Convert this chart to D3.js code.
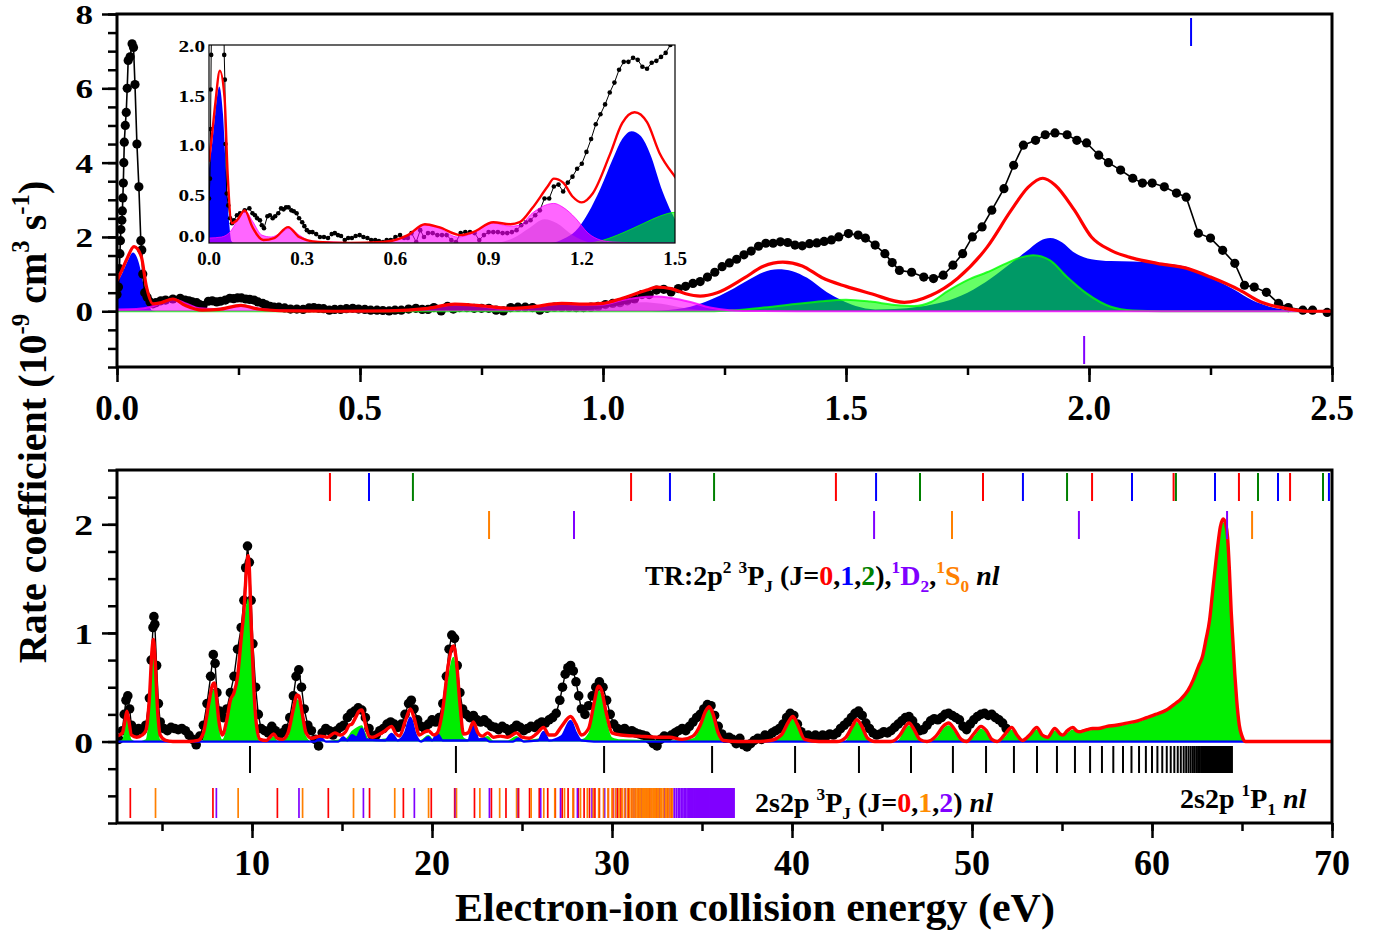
<!DOCTYPE html>
<html><head><meta charset="utf-8">
<script src="https://cdn.jsdelivr.net/npm/d3@7"></script>
<style>
body{margin:0;background:#fff}
svg{display:block}
text{font-family:"Liberation Serif","Times New Roman",serif;font-weight:bold;white-space:pre}
</style>
</head><body>
<svg id="c" width="1385" height="930"></svg>
<script>
// ---------------- DATA ----------------
// Top panel: experiment (x in eV, rate in 1e-9 cm3/s)
const topExp = [[0.000,0.45],[0.003,0.65],[0.005,1.15],[0.006,1.55],[0.007,1.90],[0.008,2.20],[0.010,2.45],[0.011,2.70],[0.012,3.05],[0.013,3.45],[0.014,4.00],[0.015,4.55],[0.017,5.00],[0.019,5.35],[0.021,6.00],[0.023,6.75],[0.027,6.85],[0.031,7.20],[0.034,7.10],[0.037,6.10],[0.041,4.50],[0.045,3.35],[0.049,1.90],[0.051,1.65],[0.053,1.00],[0.057,0.50],[0.062,0.38],[0.068,0.25],[0.074,0.20],[0.080,0.23],[0.090,0.28],[0.100,0.30],[0.115,0.33],[0.130,0.35],[0.140,0.30],[0.148,0.28],[0.155,0.25],[0.164,0.23],[0.170,0.18],[0.177,0.15],[0.188,0.27],[0.196,0.28],[0.205,0.25],[0.213,0.27],[0.223,0.30],[0.232,0.35],[0.240,0.34],[0.248,0.36],[0.256,0.36],[0.265,0.33],[0.273,0.32],[0.282,0.30],[0.290,0.25],[0.300,0.21],[0.307,0.17],[0.315,0.13],[0.323,0.11],[0.333,0.11],[0.345,0.09],[0.357,0.06],[0.370,0.06],[0.383,0.05],[0.395,0.09],[0.405,0.10],[0.415,0.08],[0.425,0.07],[0.437,0.03],[0.448,0.05],[0.460,0.05],[0.472,0.07],[0.485,0.08],[0.497,0.06],[0.510,0.05],[0.522,0.03],[0.535,0.03],[0.547,0.02],[0.560,0.01],[0.572,0.03],[0.585,0.03],[0.600,0.06],[0.615,0.08],[0.628,0.05],[0.640,0.05],[0.652,0.10],[0.667,0.01],[0.680,0.13],[0.692,0.06],[0.705,0.10],[0.720,0.10],[0.735,0.08],[0.750,0.08],[0.765,0.08],[0.780,0.03],[0.795,0.01],[0.810,0.10],[0.825,0.11],[0.840,0.11],[0.855,0.10],[0.870,0.03],[0.885,0.08],[0.900,0.11],[0.915,0.11],[0.930,0.11],[0.945,0.10],[0.960,0.10],[0.975,0.11],[0.990,0.13],[1.005,0.18],[1.020,0.21],[1.035,0.23],[1.050,0.28],[1.065,0.33],[1.080,0.45],[1.095,0.45],[1.110,0.57],[1.125,0.59],[1.140,0.52],[1.155,0.61],[1.170,0.67],[1.185,0.75],[1.200,0.80],[1.215,0.92],[1.230,1.05],[1.245,1.20],[1.260,1.30],[1.275,1.40],[1.290,1.52],[1.305,1.62],[1.320,1.75],[1.335,1.83],[1.350,1.83],[1.365,1.87],[1.380,1.85],[1.395,1.78],[1.410,1.76],[1.425,1.82],[1.440,1.84],[1.455,1.88],[1.470,1.92],[1.485,2.00],[1.505,2.09],[1.525,2.05],[1.540,1.97],[1.560,1.78],[1.580,1.55],[1.595,1.31],[1.610,1.10],[1.635,1.05],[1.660,0.92],[1.680,0.88],[1.700,0.97],[1.720,1.24],[1.740,1.55],[1.760,2.00],[1.780,2.27],[1.800,2.72],[1.825,3.30],[1.845,3.93],[1.865,4.47],[1.890,4.60],[1.910,4.75],[1.930,4.80],[1.955,4.75],[1.975,4.60],[1.995,4.53],[2.020,4.20],[2.040,4.00],[2.065,3.80],[2.090,3.58],[2.110,3.45],[2.130,3.45],[2.155,3.35],[2.180,3.18],[2.200,3.07],[2.225,2.10],[2.250,1.97],[2.275,1.64],[2.300,1.29],[2.320,0.70],[2.340,0.65],[2.365,0.51],[2.390,0.21],[2.410,0.10],[2.440,0.03],[2.460,0.03],[2.490,-0.03]];
// Top panel: total theory (red)
const topRed = [[0.0,0.82],[0.01,1.1],[0.02,1.4],[0.035,1.74],[0.05,1.47],[0.06,0.7],[0.074,0.2],[0.09,0.23],[0.115,0.33],[0.14,0.16],[0.175,0.03],[0.21,0.05],[0.255,0.16],[0.29,0.06],[0.35,0.01],[0.45,0.0],[0.56,0.01],[0.64,0.08],[0.695,0.19],[0.74,0.16],[0.81,0.08],[0.85,0.11],[0.915,0.21],[0.97,0.19],[1.0,0.21],[1.04,0.35],[1.09,0.57],[1.11,0.65],[1.14,0.61],[1.17,0.47],[1.2,0.41],[1.235,0.5],[1.29,0.89],[1.33,1.21],[1.37,1.32],[1.41,1.22],[1.45,0.91],[1.5,0.67],[1.55,0.48],[1.62,0.24],[1.675,0.43],[1.73,0.89],[1.79,1.72],[1.84,2.72],[1.875,3.34],[1.905,3.58],[1.93,3.4],[1.97,2.72],[2.005,2.0],[2.045,1.64],[2.09,1.43],[2.14,1.29],[2.2,1.16],[2.25,0.92],[2.31,0.57],[2.355,0.24],[2.405,0.08],[2.45,0.0],[2.5,0.0]];
// Top panel: partial contributions
const topBlue = [[0.0,0.75],[0.01,1.0],[0.02,1.3],[0.033,1.58],[0.045,1.3],[0.055,0.7],[0.065,0.2],[0.072,0.02],[0.08,0.0],[1.1,0.0],[1.14,0.04],[1.18,0.12],[1.22,0.3],[1.26,0.55],[1.3,0.85],[1.33,1.05],[1.36,1.13],[1.39,1.08],[1.42,0.9],[1.46,0.52],[1.49,0.3],[1.52,0.14],[1.56,0.05],[1.6,0.06],[1.65,0.12],[1.7,0.25],[1.75,0.5],[1.8,0.9],[1.84,1.3],[1.87,1.6],[1.9,1.9],[1.92,1.97],[1.945,1.85],[1.967,1.6],[2.005,1.4],[2.045,1.35],[2.09,1.34],[2.14,1.3],[2.2,1.2],[2.23,1.02],[2.26,0.84],[2.3,0.57],[2.335,0.3],[2.37,0.13],[2.41,0.03],[2.45,0.0],[2.5,0.0]];
const topGreen = [[0.0,0.0],[1.22,0.0],[1.27,0.03],[1.33,0.1],[1.4,0.2],[1.45,0.27],[1.5,0.31],[1.55,0.26],[1.6,0.17],[1.64,0.14],[1.675,0.25],[1.71,0.55],[1.75,0.84],[1.79,1.05],[1.83,1.29],[1.86,1.45],[1.885,1.51],[1.92,1.37],[1.955,0.92],[1.995,0.48],[2.045,0.12],[2.09,0.02],[2.15,0.0],[2.5,0.0]];
const topMagenta = [[0.0,0.05],[0.04,0.06],[0.07,0.12],[0.09,0.22],[0.115,0.33],[0.14,0.22],[0.17,0.08],[0.2,0.06],[0.23,0.1],[0.26,0.15],[0.29,0.08],[0.33,0.02],[0.4,0.01],[0.5,0.0],[0.58,0.02],[0.64,0.08],[0.695,0.18],[0.74,0.15],[0.8,0.06],[0.85,0.1],[0.915,0.2],[0.97,0.17],[1.0,0.18],[1.04,0.3],[1.09,0.39],[1.11,0.4],[1.14,0.36],[1.18,0.25],[1.22,0.1],[1.26,0.03],[1.3,0.01],[1.4,0.0],[2.5,0.0]];
const topGray = [[0.93,0.0],[0.98,0.05],[1.03,0.15],[1.08,0.24],[1.12,0.2],[1.17,0.08],[1.22,0.01],[1.25,0.0]];
const topMarkBlue = [2.21];
const topMarkPurple = [1.99];

// Bottom panel: experiment
const botExp = [[2.6,0.02],[2.8,0.10],[2.9,0.25],[3.0,0.38],[3.1,0.42],[3.2,0.30],[3.3,0.15],[3.5,0.08],[3.7,0.12],[3.9,0.10],[4.1,0.15],[4.3,0.40],[4.4,0.75],[4.5,1.05],[4.55,1.15],[4.6,1.08],[4.7,0.70],[4.8,0.35],[4.9,0.18],[5.1,0.12],[5.3,0.10],[5.5,0.13],[5.7,0.12],[5.9,0.11],[6.1,0.12],[6.3,0.10],[6.5,0.06],[6.7,0.02],[6.9,-0.03],[7.1,0.05],[7.3,0.15],[7.5,0.35],[7.7,0.60],[7.85,0.80],[7.95,0.72],[8.05,0.45],[8.2,0.28],[8.4,0.22],[8.6,0.30],[8.8,0.45],[9.0,0.60],[9.2,0.85],[9.4,1.05],[9.55,1.30],[9.65,1.60],[9.75,1.80],[9.85,1.65],[9.95,1.30],[10.05,0.90],[10.2,0.50],[10.35,0.25],[10.5,0.12],[10.7,0.10],[10.9,0.08],[11.1,0.14],[11.3,0.10],[11.5,0.06],[11.7,0.08],[11.9,0.12],[12.1,0.22],[12.3,0.42],[12.45,0.60],[12.6,0.66],[12.75,0.50],[12.9,0.30],[13.1,0.15],[13.3,0.10],[13.5,0.02],[13.7,-0.04],[13.9,0.08],[14.1,0.12],[14.3,0.10],[14.5,0.06],[14.7,0.10],[14.9,0.13],[15.1,0.15],[15.3,0.22],[15.5,0.26],[15.7,0.28],[15.9,0.31],[16.1,0.29],[16.3,0.22],[16.5,0.12],[16.7,0.05],[16.9,0.06],[17.1,0.10],[17.3,0.12],[17.5,0.16],[17.7,0.18],[17.9,0.16],[18.1,0.13],[18.3,0.16],[18.5,0.25],[18.7,0.35],[18.85,0.38],[19.0,0.30],[19.2,0.20],[19.4,0.14],[19.6,0.12],[19.8,0.16],[20.0,0.20],[20.2,0.18],[20.4,0.22],[20.6,0.35],[20.8,0.60],[20.95,0.85],[21.1,0.98],[21.25,0.95],[21.4,0.70],[21.55,0.45],[21.7,0.30],[21.9,0.25],[22.1,0.22],[22.3,0.24],[22.5,0.20],[22.7,0.18],[22.9,0.20],[23.1,0.17],[23.3,0.14],[23.5,0.13],[23.7,0.11],[23.9,0.14],[24.1,0.12],[24.3,0.09],[24.5,0.12],[24.7,0.15],[24.9,0.13],[25.1,0.10],[25.3,0.12],[25.5,0.14],[25.7,0.13],[25.9,0.16],[26.1,0.18],[26.3,0.17],[26.5,0.20],[26.7,0.22],[26.9,0.26],[27.1,0.38],[27.25,0.50],[27.4,0.62],[27.55,0.68],[27.7,0.70],[27.85,0.65],[28.0,0.55],[28.15,0.42],[28.3,0.30],[28.5,0.25],[28.7,0.33],[28.9,0.42],[29.1,0.50],[29.3,0.55],[29.5,0.50],[29.7,0.38],[29.9,0.25],[30.1,0.16],[30.3,0.12],[30.5,0.10],[30.7,0.12],[30.9,0.09],[31.1,0.10],[31.3,0.08],[31.5,0.07],[31.7,0.06],[31.9,0.05],[32.1,0.02],[32.3,-0.02],[32.5,-0.04],[32.7,0.02],[32.9,0.05],[33.1,0.04],[33.3,0.06],[33.5,0.08],[33.7,0.10],[33.9,0.12],[34.1,0.10],[34.3,0.14],[34.5,0.18],[34.7,0.22],[34.9,0.25],[35.1,0.30],[35.3,0.34],[35.5,0.33],[35.7,0.24],[35.9,0.14],[36.1,0.07],[36.3,0.03],[36.5,0.04],[36.7,0.02],[36.9,-0.02],[37.1,0.03],[37.3,-0.03],[37.5,-0.05],[37.7,-0.02],[37.9,0.01],[38.1,0.03],[38.3,0.02],[38.5,0.06],[38.7,0.05],[38.9,0.08],[39.1,0.10],[39.3,0.12],[39.5,0.16],[39.7,0.22],[39.9,0.26],[40.1,0.24],[40.3,0.16],[40.5,0.09],[40.7,0.05],[40.9,0.06],[41.1,0.04],[41.3,0.06],[41.5,0.04],[41.7,0.06],[41.9,0.05],[42.1,0.07],[42.3,0.06],[42.5,0.08],[42.7,0.12],[42.9,0.15],[43.1,0.18],[43.3,0.22],[43.5,0.26],[43.7,0.28],[43.9,0.24],[44.1,0.17],[44.3,0.12],[44.5,0.08],[44.7,0.06],[44.9,0.07],[45.1,0.09],[45.3,0.08],[45.5,0.10],[45.7,0.13],[45.9,0.16],[46.1,0.19],[46.3,0.22],[46.5,0.23],[46.7,0.19],[46.9,0.13],[47.1,0.10],[47.3,0.11],[47.5,0.15],[47.7,0.19],[47.9,0.21],[48.1,0.20],[48.3,0.22],[48.5,0.25],[48.7,0.26],[48.9,0.24],[49.1,0.22],[49.3,0.20],[49.5,0.14],[49.7,0.11],[49.9,0.16],[50.1,0.20],[50.3,0.23],[50.5,0.25],[50.7,0.26],[50.9,0.24],[51.1,0.25],[51.3,0.22],[51.5,0.20],[51.7,0.17],[51.9,0.12]];
const botRed = [[2.5,0.05],[2.8,0.08],[2.95,0.2],[3.05,0.28],[3.15,0.2],[3.3,0.06],[3.6,0.04],[3.9,0.06],[4.1,0.1],[4.3,0.4],[4.45,0.85],[4.52,0.94],[4.6,0.8],[4.75,0.3],[4.9,0.06],[5.2,0.01],[5.6,0.0],[6.5,0.0],[7.0,0.01],[7.3,0.08],[7.6,0.35],[7.8,0.52],[7.9,0.54],[8.0,0.45],[8.15,0.2],[8.35,0.06],[8.6,0.2],[8.8,0.38],[9.0,0.45],[9.2,0.6],[9.4,0.95],[9.55,1.2],[9.7,1.6],[9.78,1.71],[9.85,1.6],[9.95,1.1],[10.1,0.5],[10.25,0.15],[10.45,0.02],[10.8,0.01],[11.0,0.04],[11.2,0.07],[11.4,0.03],[11.7,0.02],[12.0,0.08],[12.3,0.3],[12.5,0.43],[12.6,0.42],[12.8,0.25],[13.0,0.08],[13.3,0.03],[13.8,0.05],[14.2,0.04],[14.6,0.08],[14.9,0.06],[15.2,0.09],[15.4,0.15],[15.55,0.16],[15.75,0.22],[15.95,0.28],[16.1,0.29],[16.3,0.16],[16.5,0.05],[16.7,0.04],[17.0,0.06],[17.4,0.1],[17.75,0.14],[18.0,0.07],[18.2,0.05],[18.5,0.18],[18.8,0.3],[19.0,0.22],[19.3,0.06],[19.6,0.09],[19.8,0.1],[20.1,0.06],[20.3,0.08],[20.6,0.3],[20.9,0.7],[21.1,0.86],[21.2,0.88],[21.35,0.75],[21.55,0.35],[21.75,0.07],[22.0,0.08],[22.3,0.18],[22.55,0.08],[22.8,0.05],[23.1,0.08],[23.4,0.04],[23.8,0.05],[24.2,0.04],[24.7,0.08],[25.0,0.04],[25.4,0.03],[25.8,0.07],[26.2,0.13],[26.5,0.06],[26.8,0.06],[27.2,0.14],[27.7,0.23],[28.0,0.16],[28.3,0.06],[28.7,0.12],[29.0,0.35],[29.25,0.51],[29.4,0.48],[29.7,0.25],[30.0,0.08],[30.5,0.06],[31.5,0.05],[32.5,0.04],[33.2,0.04],[33.9,0.02],[34.5,0.05],[34.9,0.15],[35.2,0.28],[35.4,0.32],[35.6,0.26],[35.9,0.08],[36.2,0.01],[37.0,0.0],[38.0,0.0],[38.8,0.01],[39.4,0.06],[39.8,0.18],[40.05,0.23],[40.3,0.16],[40.7,0.02],[41.5,0.0],[42.5,0.0],[43.0,0.04],[43.35,0.14],[43.6,0.2],[43.85,0.15],[44.2,0.03],[44.6,0.0],[45.5,0.0],[46.0,0.06],[46.3,0.14],[46.5,0.17],[46.75,0.12],[47.1,0.02],[47.5,0.0],[48.0,0.05],[48.4,0.14],[48.7,0.17],[49.0,0.12],[49.4,0.02],[49.7,0.0],[50.1,0.07],[50.5,0.14],[50.8,0.1],[51.1,0.02],[51.4,0.0],[51.8,0.06],[52.2,0.13],[52.5,0.06],[52.8,0.01],[53.2,0.06],[53.6,0.13],[53.9,0.06],[54.2,0.04],[54.6,0.12],[54.9,0.07],[55.05,0.06],[55.3,0.1],[55.6,0.13],[55.8,0.1],[56.0,0.09],[56.2,0.1],[56.4,0.11],[56.7,0.12],[57.0,0.12],[57.5,0.14],[58.0,0.15],[58.6,0.17],[59.2,0.19],[59.7,0.22],[60.2,0.25],[60.8,0.29],[61.3,0.35],[61.6,0.39],[62.0,0.47],[62.3,0.57],[62.6,0.7],[62.8,0.78],[63.0,0.94],[63.2,1.12],[63.35,1.35],[63.5,1.58],[63.65,1.8],[63.8,1.98],[63.96,2.05],[64.1,2.0],[64.2,1.88],[64.3,1.58],[64.4,1.2],[64.5,0.91],[64.6,0.62],[64.7,0.39],[64.85,0.15],[65.0,0.05],[65.2,0.0],[70.0,0.0]];
const botGreen = [[2.5,0],[2.8,0.02],[2.95,0.15],[3.05,0.22],[3.15,0.15],[3.3,0.02],[3.6,0],[4.1,0.02],[4.3,0.3],[4.45,0.7],[4.52,0.78],[4.6,0.65],[4.75,0.22],[4.9,0.02],[5.2,0],[7.2,0],[7.5,0.2],[7.8,0.46],[7.9,0.48],[8.0,0.4],[8.15,0.15],[8.35,0.02],[8.6,0.15],[8.8,0.35],[9.0,0.43],[9.2,0.58],[9.4,0.92],[9.55,1.1],[9.7,1.28],[9.78,1.32],[9.85,1.25],[9.95,0.95],[10.1,0.4],[10.25,0.1],[10.45,0],[11.0,0.02],[11.2,0.05],[11.4,0.01],[12.0,0.05],[12.3,0.27],[12.5,0.39],[12.6,0.38],[12.8,0.22],[13.0,0.05],[13.3,0],[15.2,0.03],[15.55,0.1],[15.8,0.13],[16.1,0.15],[16.3,0.08],[16.5,0.02],[17.0,0.02],[17.5,0.03],[18.0,0.01],[18.8,0.03],[19.3,0.01],[19.8,0.06],[20.1,0.02],[20.3,0.04],[20.6,0.25],[20.9,0.6],[21.1,0.76],[21.2,0.78],[21.35,0.65],[21.55,0.28],[21.75,0.04],[22.0,0.02],[22.5,0.01],[23.1,0.05],[23.4,0.01],[24.2,0.01],[24.7,0.05],[25.0,0.01],[26.2,0.03],[26.6,0.01],[27.7,0.03],[28.3,0.02],[28.7,0.08],[29.0,0.32],[29.25,0.47],[29.4,0.44],[29.7,0.2],[30.0,0.04],[30.5,0.02],[33.2,0.01],[34.5,0.03],[34.9,0.13],[35.2,0.26],[35.4,0.3],[35.6,0.24],[35.9,0.06],[36.2,0],[38.8,0],[39.4,0.05],[39.8,0.16],[40.05,0.21],[40.3,0.14],[40.7,0.01],[42.9,0],[43.35,0.12],[43.6,0.18],[43.85,0.13],[44.2,0.02],[45.8,0],[46.3,0.12],[46.5,0.15],[46.75,0.1],[47.1,0.01],[48.0,0.03],[48.4,0.12],[48.7,0.15],[49.0,0.1],[49.4,0.01],[50.1,0.05],[50.5,0.12],[50.8,0.08],[51.1,0.01],[51.8,0.04],[52.2,0.11],[52.5,0.05],[52.8,0.01],[53.2,0.05],[53.6,0.11],[53.9,0.05],[54.2,0.03],[54.6,0.1],[54.9,0.06],[55.05,0.05],[55.3,0.08],[55.6,0.11],[55.8,0.09],[56.0,0.08],[56.4,0.1],[57.0,0.11],[57.5,0.13],[58.0,0.14],[58.6,0.16],[59.2,0.18],[59.7,0.21],[60.2,0.24],[60.8,0.28],[61.3,0.34],[62.0,0.46],[62.3,0.55],[62.6,0.68],[63.0,0.92],[63.2,1.1],[63.35,1.32],[63.5,1.55],[63.65,1.77],[63.8,1.95],[63.96,2.02],[64.1,1.96],[64.2,1.84],[64.3,1.55],[64.4,1.17],[64.5,0.88],[64.6,0.58],[64.7,0.35],[64.85,0.12],[65.0,0.03],[65.2,0],[70,0]];
const botBlue = [[2.5,0],[13.5,0],[13.8,0.04],[14.1,0],[14.8,0],[15.06,0.04],[15.3,0.01],[15.55,0.06],[15.8,0.04],[16.1,0.12],[16.35,0.02],[17.4,0.01],[17.75,0.07],[18.1,0.01],[18.5,0.08],[18.8,0.22],[19.1,0.06],[19.4,0],[19.8,0.04],[20.0,0.01],[20.3,0.07],[20.6,0.01],[22.0,0.01],[22.3,0.15],[22.6,0.02],[22.9,0.03],[23.2,0],[24.5,0],[24.8,0.03],[25.1,0],[25.9,0.01],[26.2,0.09],[26.5,0.01],[27.2,0.05],[27.7,0.19],[28.0,0.08],[28.3,0.01],[29,0],[70,0]];

// Resonance positions (eV): TR 2p^2 series (top rows)
const trRed = [14.33, 31.06, 42.44, 50.61, 56.67, 61.2, 64.83, 67.67];
const trBlue = [16.5, 33.22, 44.67, 52.83, 58.89, 63.5, 67.0, 69.83];
const trGreen = [18.94, 35.67, 47.11, 55.28, 61.33, 65.89, 69.5];
const trOrange = [23.17, 48.89, 65.56];
const trPurple = [27.89, 44.56, 55.94, 64.17];
// 2s2p 1P1 nl series (black)
const p1Series = [9.89,21.33,29.56,35.56,40.17,43.72,46.61,48.94,50.78,52.33,53.61,54.72,55.72,56.56,57.22,57.85,58.39,58.86,59.28,59.66,60.0,60.3,60.57,60.82,61.04,61.24,61.43,61.6,61.76,61.9,62.03,62.15,62.27,62.37,62.47,62.56,62.65,62.73,62.8,62.87,62.93,63.0,63.05,63.11,63.16,63.21,63.25,63.3,63.34,63.38,63.41,63.45,63.48,63.54,63.6,63.65,63.7,63.75,63.8,63.85,63.9,63.95,64.0,64.05,64.1,64.15,64.2,64.25,64.3,64.35,64.4,64.44];
// 2s2p 3PJ nl series (J=0 red, J=1 orange, J=2 purple)
const p3J0 = [3.24,7.83,11.41,14.24,16.53,18.41,19.96,21.26,22.36,23.3,24.11,24.81,25.42,25.96,26.43,26.85,27.23,27.56,27.86,28.13,28.45,28.75,29.05,29.3,29.55,29.8,30.05,30.3,30.5,30.7,30.9,31.1,31.3,31.5,31.7,31.9,32.1,32.3,32.5,32.7,32.9,33.1,33.3];
const p3J1 = [4.64,9.23,12.81,15.64,17.93,19.81,21.36,22.66,23.76,24.7,25.51,26.21,26.82,27.36,27.83,28.25,28.63,28.96,29.26,29.53,29.78,30.0,30.2,30.39,30.56,30.71,30.86,30.99,31.11,31.22,31.33,31.43,31.52,31.6,31.68,31.76,31.82,31.89,31.95,32.01,32.11,32.21,32.29,32.37,32.43,32.52,32.6,32.69,32.77,32.86,32.97,33.05,33.15,33.25,33.35];
const p3J2 = [8.02,12.61,16.19,19.02,21.31,23.19,24.74,26.04,27.14,28.08,28.89,29.59,30.2,30.74,31.21,31.63,32.01,32.34,32.64,32.91,33.16,33.38,33.48,33.58,33.68,33.77,33.86,33.94,34.02,34.09,34.17,34.24,34.31,34.37,34.43,34.49,34.55,34.6,34.66,34.71,34.76,34.81,34.86,34.9,34.94,34.98,35.02,35.06,35.1,35.14,35.17,35.2,35.24,35.27,35.3,35.33,35.36,35.39,35.44,35.49,35.54,35.59,35.63,35.67,35.71,35.75,35.78,35.81,35.86,35.9,35.94,35.98,36.03,36.07,36.12,36.16,36.2,36.24,36.3,36.35,36.39,36.43,36.48,36.52,36.56,36.6,36.64,36.68,36.72,36.75,36.78];

// Tick values
const topXTicks = [0, 0.5, 1.0, 1.5, 2.0, 2.5];
const topYTicks = [0, 2, 4, 6, 8];
const botXTicks = [10, 20, 30, 40, 50, 60, 70];
const botYTicks = [0, 1, 2];
const insetXTicks = [0, 0.3, 0.6, 0.9, 1.2, 1.5];
const insetYTicks = [0, 0.5, 1.0, 1.5, 2.0];

// ---------------- DRAWING ----------------
const svg = d3.select("#c");
svg.append("rect").attr("width",1385).attr("height",930).attr("fill","#fff");
const defs = svg.append("defs");
function clip(id,x0,y0,x1,y1){defs.append("clipPath").attr("id",id).append("rect").attr("x",x0).attr("y",y0).attr("width",x1-x0).attr("height",y1-y0);}

const L=117, R=1332;
const tx = d3.scaleLinear().domain([0,2.5]).range([L,R]);
const ty = d3.scaleLinear().domain([-1.5,8]).range([367,14]);
const bx = d3.scaleLinear().domain([2.5,70]).range([L,R]);
const by = d3.scaleLinear().domain([-0.75,2.5]).range([823,470]);
const ix = d3.scaleLinear().domain([0,1.5]).range([209,675]);
const iy = d3.scaleLinear().domain([0,2]).range([243,45]);

clip("cTop",L,14,R,367); clip("cBot",L,470,R,823); clip("cIn",209,45,675,243);

const C = {red:"#ff0000", blue:"#0000ff", green:"#00ff00", dgreen:"#008000", mag:"#ff00ff", purple:"#8000ff", orange:"#ff8000"};

function area(g,xs,ys,data,fill,op,strokeW){
  const a = d3.area().x(d=>xs(d[0])).y0(ys(0)).y1(d=>ys(d[1])).curve(d3.curveMonotoneX);
  g.append("path").datum(data).attr("d",a).attr("fill",fill).attr("fill-opacity",op);
  if(strokeW) g.append("path").datum(data).attr("d",d3.line().x(d=>xs(d[0])).y(d=>ys(d[1])).curve(d3.curveMonotoneX))
    .attr("fill","none").attr("stroke",fill).attr("stroke-opacity",Math.min(1,op+0.2)).attr("stroke-width",strokeW);
}
function line(g,xs,ys,data,color,w){
  g.append("path").datum(data).attr("d",d3.line().x(d=>xs(d[0])).y(d=>ys(d[1])).curve(d3.curveMonotoneX))
    .attr("fill","none").attr("stroke",color).attr("stroke-width",w).attr("stroke-linejoin","round");
}
function expData(g,xs,ys,data,r,lw){
  g.append("path").datum(data).attr("d",d3.line().x(d=>xs(d[0])).y(d=>ys(d[1])))
    .attr("fill","none").attr("stroke","#000").attr("stroke-width",lw);
  g.append("g").selectAll("circle").data(data).join("circle")
    .attr("cx",d=>xs(d[0])).attr("cy",d=>ys(d[1])).attr("r",r).attr("fill","#000");
}
function marks(g,xs,vals,y0,y1,color,w){
  g.append("g").selectAll("line").data(vals).join("line")
    .attr("x1",d=>xs(d)).attr("x2",d=>xs(d)).attr("y1",y0).attr("y2",y1)
    .attr("stroke",color).attr("stroke-width",w||2);
}
function rich(g,x,y,size,parts,anchor,transform){
  const t = g.append("text").attr("x",x).attr("y",y).attr("font-size",size).attr("text-anchor",anchor||"start");
  if(transform) t.attr("transform",transform);
  let cur=0;
  parts.forEach(p=>{
    const s=t.append("tspan").text(p.t);
    let target=0, fs=size;
    if(p.sup){target=-size*0.42; fs=size*0.62;}
    if(p.sub){target=size*0.25; fs=size*0.62;}
    s.attr("dy",(target-cur)+"px").attr("font-size",fs);
    cur=target;
    if(p.c) s.attr("fill",p.c);
    if(p.i) s.attr("font-style","italic");
  });
  return t;
}
function ticks(g,axisFn,scale,vals,size,transform,w){
  const ax = axisFn(scale).tickValues(vals).tickSize(size).tickSizeOuter(0).tickFormat("");
  const gg = g.append("g").attr("transform",transform).call(ax);
  gg.select(".domain").remove();
  gg.selectAll("line").attr("stroke","#000").attr("stroke-width",w||2.5);
}

// ===== TOP PANEL =====
const gt = svg.append("g");
const gtc = gt.append("g").attr("clip-path","url(#cTop)");
area(gtc,tx,ty,topBlue,C.blue,1,0);
expData(gtc,tx,ty,topExp,4.6,1.6);
area(gtc,tx,ty,topGreen,C.green,0.6,2);
area(gtc,tx,ty,topGray,"#7a6a8a",0.45,0);
area(gtc,tx,ty,topMagenta,C.mag,0.6,2);
line(gtc,tx,ty,topRed,C.red,3.2);
marks(gt,tx,topMarkBlue,18,46,C.blue,2);
marks(gt,tx,topMarkPurple,336,364,C.purple,2);

// inset
const gi = svg.append("g");
gi.append("rect").attr("x",209).attr("y",45).attr("width",466).attr("height",198).attr("fill","#fff");
const gic = gi.append("g").attr("clip-path","url(#cIn)");
area(gic,ix,iy,topBlue,C.blue,1,0);
expData(gic,ix,iy,topExp,2.3,1);
area(gic,ix,iy,topGreen,C.green,0.6,1);
area(gic,ix,iy,topGray,"#7a6a8a",0.45,0);
area(gic,ix,iy,topMagenta,C.mag,0.6,1);
line(gic,ix,iy,topRed,C.red,2.4);
gi.append("rect").attr("x",209).attr("y",45).attr("width",466).attr("height",198).attr("fill","none").attr("stroke","#000").attr("stroke-width",1.2);
insetYTicks.forEach(v=>{
  const yy = v===0 ? iy(v)-1 : iy(v)+7;
  gi.append("text").attr("text-anchor","end").attr("font-size",17).attr("transform",`translate(205,${yy}) scale(1.25,1)`).text(v.toFixed(1));
});
insetXTicks.forEach(v=>{
  gi.append("text").attr("x",ix(v)).attr("y",265).attr("text-anchor","middle").attr("font-size",19).text(v.toFixed(1));
});

// top axes
ticks(gt,d3.axisBottom,tx,d3.range(0,2.51,0.25),8,"translate(0,367)");
ticks(gt,d3.axisBottom,tx,topXTicks,15,"translate(0,367)");
ticks(gt,d3.axisLeft,ty,d3.range(-1.5,8.01,0.5),9,`translate(${L},0)`);
ticks(gt,d3.axisLeft,ty,topYTicks,15,`translate(${L},0)`);
gt.append("rect").attr("x",L).attr("y",14).attr("width",R-L).attr("height",367-14).attr("fill","none").attr("stroke","#000").attr("stroke-width",3);
topXTicks.forEach(v=>gt.append("text").attr("x",tx(v)).attr("y",420).attr("text-anchor","middle").attr("font-size",35).text(v.toFixed(1)));
topYTicks.forEach(v=>gt.append("text").attr("text-anchor","end").attr("font-size",27).attr("transform",`translate(93,${ty(v)+10}) scale(1.3,1)`).text(v));

// ===== BOTTOM PANEL =====
const gb = svg.append("g");
const gbc = gb.append("g").attr("clip-path","url(#cBot)");
expData(gbc,bx,by,botExp,4.8,1.4);
area(gbc,bx,by,botGreen,"#00ee00",1,0);
area(gbc,bx,by,botBlue,C.blue,1,2.2);
line(gbc,bx,by,botRed,C.red,3.4);

// resonance markers
marks(gb,bx,trRed,473,501,C.red);
marks(gb,bx,trBlue,473,501,C.blue);
marks(gb,bx,trGreen,473,501,C.dgreen);
marks(gb,bx,trOrange,511,539,C.orange);
marks(gb,bx,trPurple,511,539,C.purple);
marks(gb,bx,p1Series,746,773,"#000",2);
marks(gb,bx,p3J0,788,818,C.red,1.7);
marks(gb,bx,p3J2,788,818,C.purple,1.7);
marks(gb,bx,p3J1,788,818,C.orange,1.7);

// bottom axes
ticks(gb,d3.axisBottom,bx,d3.range(5,70.1,5),8,"translate(0,823)");
ticks(gb,d3.axisBottom,bx,botXTicks,15,"translate(0,823)");
ticks(gb,d3.axisLeft,by,d3.range(-0.75,2.51,0.25),9,`translate(${L},0)`);
ticks(gb,d3.axisLeft,by,botYTicks,15,`translate(${L},0)`);
gb.append("rect").attr("x",L).attr("y",470).attr("width",R-L).attr("height",823-470).attr("fill","none").attr("stroke","#000").attr("stroke-width",3);
botXTicks.forEach(v=>gb.append("text").attr("x",bx(v)).attr("y",875).attr("text-anchor","middle").attr("font-size",36).text(v));
botYTicks.forEach(v=>gb.append("text").attr("text-anchor","end").attr("font-size",29).attr("transform",`translate(93,${by(v)+11}) scale(1.3,1)`).text(v));

// annotations
rich(gb,645,585,28,[{t:"TR:2p"},{t:"2",sup:1},{t:" "},{t:"3",sup:1},{t:"P"},{t:"J",sub:1},{t:" (J="},{t:"0",c:C.red},{t:","},{t:"1",c:C.blue},{t:","},{t:"2",c:C.dgreen},{t:"),"},{t:"1",sup:1,c:C.purple},{t:"D",c:C.purple},{t:"2",sub:1,c:C.purple},{t:","},{t:"1",sup:1,c:C.orange},{t:"S",c:C.orange},{t:"0",sub:1,c:C.orange},{t:" "},{t:"nl",i:1}]);
rich(gb,755,812,28,[{t:"2s2p "},{t:"3",sup:1},{t:"P"},{t:"J",sub:1},{t:" (J="},{t:"0",c:C.red},{t:","},{t:"1",c:"#ff8c00"},{t:","},{t:"2",c:C.purple},{t:") "},{t:"nl",i:1}]);
rich(gb,1180,808,28,[{t:"2s2p "},{t:"1",sup:1},{t:"P"},{t:"1",sub:1},{t:" "},{t:"nl",i:1}]);

// axis titles
rich(svg,422,46,40,[{t:"Rate coefficient (10"},{t:"-9",sup:1},{t:" cm"},{t:"3",sup:1},{t:" s"},{t:"-1",sup:1},{t:")"}],"middle","rotate(-90) translate(-844,0)");
svg.append("text").attr("text-anchor","middle").attr("font-size",40).attr("transform","translate(755,921) scale(1.05,1)").text("Electron-ion collision energy (eV)");
</script>
</body></html>
